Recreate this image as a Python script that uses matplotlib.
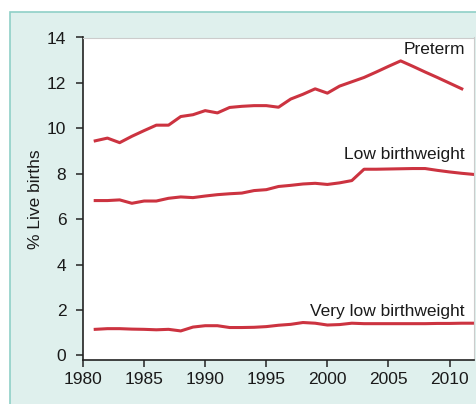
import matplotlib
matplotlib.use("Agg")
import matplotlib.pyplot as plt  # noqa: E402
from matplotlib.patches import Rectangle  # noqa: E402

plt.rcParams["font.family"] = ["Liberation Sans", "DejaVu Sans"]

# values (% of live births)
preterm_years = list(range(1981, 2012))
preterm = [9.45, 9.57, 9.37, 9.65, 9.90, 10.14, 10.14, 10.52, 10.60, 10.78,
           10.68, 10.92, 10.97, 11.00, 11.00, 10.93, 11.29, 11.50, 11.74, 11.55,
           11.86, 12.05, 12.24, 12.48, 12.73, 12.97, 12.73, 12.48, 12.24, 11.99,
           11.74]

lbw_years = list(range(1981, 2013))
low_bw = [6.82, 6.82, 6.85, 6.70, 6.80, 6.80, 6.92, 6.98, 6.95, 7.02,
          7.08, 7.12, 7.15, 7.26, 7.30, 7.44, 7.49, 7.55, 7.58, 7.53,
          7.60, 7.70, 8.20, 8.20, 8.21, 8.22, 8.23, 8.23, 8.15, 8.08,
          8.02, 7.97]

very_low_bw = [1.15, 1.18, 1.18, 1.16, 1.15, 1.13, 1.15, 1.08, 1.25, 1.31,
               1.31, 1.23, 1.23, 1.24, 1.27, 1.33, 1.37, 1.45, 1.42, 1.34,
               1.36, 1.42, 1.40, 1.40, 1.40, 1.40, 1.40, 1.40, 1.41, 1.41,
               1.42, 1.42]

series_labels = ["Preterm", "Low birthweight", "Very low birthweight"]
label_y = [13.46, 8.83, 1.93]
x_ticks = [1980, 1985, 1990, 1995, 2000, 2005, 2010]
y_ticks = [0, 2, 4, 6, 8, 10, 12, 14]

RED = "#cc3340"
PANEL = "#dff0ed"
PANEL_EDGE = "#8fd0c7"

fig = plt.figure(figsize=(4.76, 4.04), dpi=100)
fig.patch.set_facecolor("white")

# teal panel behind the chart
fig.patches.append(Rectangle((10 / 476, -0.05), 1.1, 1 - 12 / 404 + 0.05,
                             transform=fig.transFigure, facecolor=PANEL,
                             edgecolor=PANEL_EDGE, linewidth=1.2, zorder=-10))

ax = fig.add_axes([83 / 476, 1 - 360 / 404, (474 - 83) / 476, (360 - 37.5) / 404])
ax.set_facecolor("white")

ax.plot(preterm_years, preterm, color=RED, lw=2.2)
ax.plot(lbw_years, low_bw, color=RED, lw=2.2)
ax.plot(lbw_years, very_low_bw, color=RED, lw=2.2)

for text, yv in zip(series_labels, label_y):
    ax.text(2011.25, yv, text, ha="right", va="center", fontsize=12.5, color="#1a1a1a")

ax.set_xlim(1980, 2012)
ax.set_ylim(-0.2, 14)
ax.set_xticks(x_ticks)
ax.set_yticks(y_ticks)
ax.tick_params(axis="both", direction="out", labelsize=12.5, width=1.1,
               color="#222222", labelcolor="#1a1a1a")
ax.tick_params(axis="y", length=5, pad=7)
ax.tick_params(axis="x", length=5, pad=4)
ax.set_ylabel("% Live births", fontsize=12.5, color="#1a1a1a", labelpad=3)

for side in ("left", "bottom"):
    ax.spines[side].set_color("#222222")
    ax.spines[side].set_linewidth(1.2)
for side in ("top", "right"):
    ax.spines[side].set_color("#cccccc")
    ax.spines[side].set_linewidth(0.8)

fig.savefig("out.png", dpi=100)
